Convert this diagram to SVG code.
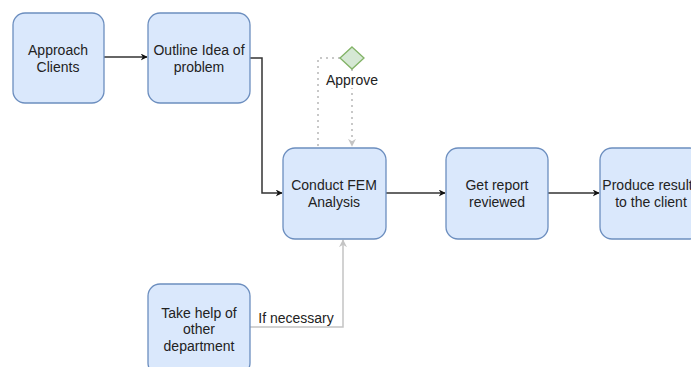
<svg xmlns="http://www.w3.org/2000/svg" width="691" height="367" viewBox="0 0 691 367">
<style>
.n{fill:#dae8fc;stroke:#6c8ebf;stroke-width:1.3}
.t{font-family:"Liberation Sans",Arial,sans-serif;font-size:14px;fill:#222;text-anchor:middle}
.c{fill:none;stroke:#333;stroke-width:1.5}
.g{fill:none;stroke:#c4c4c4;stroke-width:1.5}
.d{fill:none;stroke:#c8c8c8;stroke-width:2;stroke-dasharray:2 4}
</style>
<defs>
<marker id="a" viewBox="0 0 10 10" refX="9" refY="5" markerWidth="7" markerHeight="7" orient="auto" markerUnits="userSpaceOnUse"><path d="M0,0 L10,5 L0,10 L3,5 Z" fill="#111"/></marker>
<marker id="ag" viewBox="0 0 10 10" refX="9" refY="5" markerWidth="8" markerHeight="8" orient="auto" markerUnits="userSpaceOnUse"><path d="M0,0 L10,5 L0,10 L3,5 Z" fill="#c4c4c4"/></marker>
</defs>
<rect width="691" height="367" fill="#fff"/>
<g id="connectors">
<path class="c" d="M104,57 H147" marker-end="url(#a)"/>
<path class="c" d="M250,58 H262 V193 H282" marker-end="url(#a)"/>
<path class="c" d="M386,193 H445" marker-end="url(#a)"/>
<path class="c" d="M548,193 H599" marker-end="url(#a)"/>
<path class="g" d="M250,327 H343 V240" marker-end="url(#ag)"/>
<path class="d" d="M340,58 H318 V148"/>
<path class="d" d="M352,69 V146" marker-end="url(#ag)"/>
<rect x="324" y="72" width="56" height="16" fill="#fff"/>
<text class="t" x="352" y="85">Approve</text>
<rect x="255" y="309" width="82" height="16" fill="#fff"/>
<text class="t" x="296" y="323">If necessary</text>
</g>
<g id="approach"><rect class="n" x="13" y="13" width="91" height="90" rx="12"/><text class="t" x="58" y="55">Approach</text><text class="t" x="58" y="72">Clients</text></g>
<g id="outline"><rect class="n" x="148" y="13" width="102" height="90" rx="12"/><text class="t" x="199" y="55">Outline Idea of</text><text class="t" x="199" y="72">problem</text></g>
<g id="approve"><path d="M352,47 L364,58 L352,69 L340,58 Z" fill="#d5e8d4" stroke="#82b366" stroke-width="1.3"/></g>
<g id="conduct"><rect class="n" x="283" y="148" width="103" height="91" rx="12"/><text class="t" x="334" y="190">Conduct FEM</text><text class="t" x="334" y="207">Analysis</text></g>
<g id="report"><rect class="n" x="446" y="148" width="102" height="91" rx="12"/><text class="t" x="497" y="190">Get report</text><text class="t" x="497" y="207">reviewed</text></g>
<g id="produce"><rect class="n" x="600" y="148" width="102" height="91" rx="12"/><text class="t" x="651" y="190">Produce results</text><text class="t" x="651" y="207">to the client</text></g>
<g id="takehelp"><rect class="n" x="148" y="284" width="102" height="91" rx="12"/><text class="t" x="199" y="318">Take help of</text><text class="t" x="199" y="334">other</text><text class="t" x="199" y="351">department</text></g>
</svg>
